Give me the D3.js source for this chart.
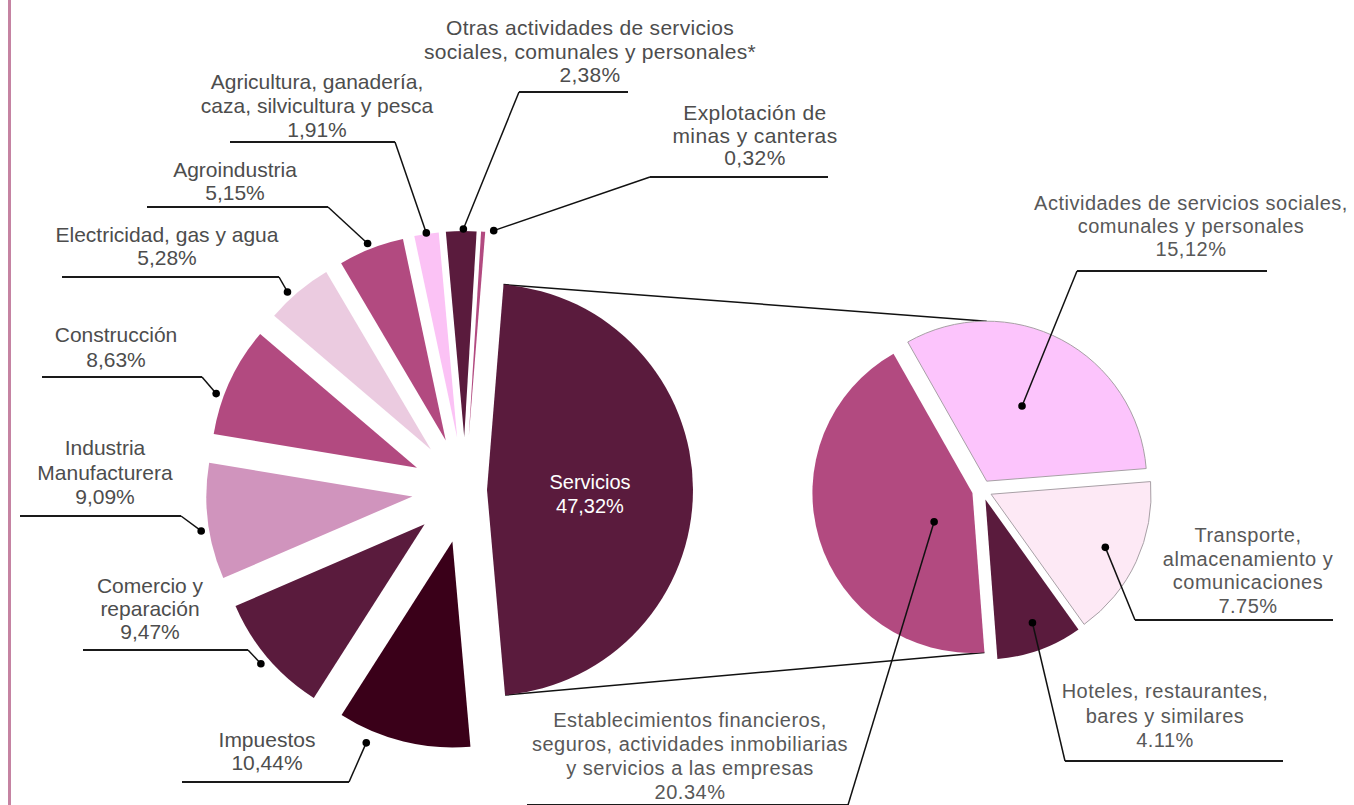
<!DOCTYPE html>
<html><head><meta charset="utf-8">
<script src="https://cdn.jsdelivr.net/npm/d3@7"></script>
<style>body{margin:0;background:#fff}svg{display:block}</style>
</head><body>
<svg id="chart" width="1354" height="805"></svg>
<script>
// ---------- data ----------
const mainCategories = [
  "Servicios",
  "Impuestos",
  "Comercio y\nreparación",
  "Industria\nManufacturera",
  "Construcción",
  "Electricidad, gas y agua",
  "Agroindustria",
  "Agricultura, ganadería,\ncaza, silvicultura y pesca",
  "Otras actividades de servicios\nsociales, comunales y personales*",
  "Explotación de\nminas y canteras"
];
const mainValues = [47.32, 10.44, 9.47, 9.09, 8.63, 5.28, 5.15, 1.91, 2.38, 0.32];
const mainValueLabels = ["47,32%", "10,44%", "9,47%", "9,09%", "8,63%", "5,28%", "5,15%", "1,91%", "2,38%", "0,32%"];

const subCategories = [
  "Establecimientos financieros,\nseguros, actividades inmobiliarias\ny servicios a las empresas",
  "Actividades de servicios sociales,\ncomunales y personales",
  "Transporte,\nalmacenamiento y\ncomunicaciones",
  "Hoteles, restaurantes,\nbares y similares"
];
const subValues = [20.34, 15.12, 7.75, 4.11];
const subValueLabels = ["20.34%", "15,12%", "7.75%", "4.11%"];

// ---------- styles / layout ----------
const mainColors = ["#5a1b3d", "#3a0019", "#5a1b3d", "#d094bd", "#b24a80", "#ebcbe0", "#b24a80", "#fbc2f5", "#5a1b3d", "#b24a80"];
const subColors = ["#b24a80", "#fcc4fc", "#fde9f5", "#5a1b3d"];
const subStroke = [null, "#a8a0a6", "#a8a0a6", null];

const deg = Math.PI / 180;
const mainCenter = {x: 465, y: 490}, mainR = 206;
const mainExplode = [22, 53, 53, 53, 53, 53, 53, 53, 53, 53];
const subCenter = {x: 982, y: 490}, subR = 160;
const subExplode = [10, 10, 10, 10];

// label layout: cx, first baseline, line height, underline y, x1, x2, connecting end, dot fraction, dot radius, font size, letter spacing
const mainLabelLayout = [
  null,
  {cx: 267, y0: 747, lh: 23, ly: 782, x1: 182, x2: 349, end: "r", t: 0.75, r: 219, fs: 21, ls: 0},
  {cx: 150, y0: 593, lh: 23, ly: 650, x1: 83, x2: 248, end: "r", t: 0.5, r: 215, fs: 21, ls: 0},
  {cx: 105, y0: 455, lh: 24.5, ly: 516, x1: 20, x2: 181, end: "r", t: 0.43, r: 214, fs: 21, ls: 0},
  {cx: 116, y0: 342, lh: 25, ly: 377, x1: 42, x2: 202, end: "r", t: 0.35, r: 214, fs: 21, ls: 0},
  {cx: 167, y0: 242, lh: 23, ly: 277, x1: 62, x2: 279, end: "r", t: 0.38, r: 213, fs: 21, ls: 0},
  {cx: 235, y0: 177, lh: 23, ly: 207, x1: 147, x2: 328, end: "r", t: 0.48, r: 212, fs: 21, ls: 0},
  {cx: 317, y0: 89, lh: 24, ly: 142, x1: 230, x2: 395, end: "r", t: 0.5, r: 207, fs: 21, ls: 0},
  {cx: 590, y0: 35, lh: 23.5, ly: 92, x1: 519, x2: 628, end: "l", t: 0.57, r: 208, fs: 21, ls: 0.3},
  {cx: 755, y0: 120, lh: 22.5, ly: 177, x1: 650, x2: 828, end: "l", t: 3.0, r: 208, fs: 21, ls: 0.4}
];
const subLabelLayout = [
  {cx: 690, y0: 727, lh: 24, ly: 805, x1: 527, x2: 848, end: "r", t: 0.37, r: 48, fs: 20, ls: 0.5},
  {cx: 1191, y0: 210, lh: 23, ly: 271, x1: 1077, x2: 1267, end: "l", t: 0.476, r: 83, fs: 20, ls: 0.5},
  {cx: 1248, y0: 542, lh: 23.7, ly: 620, x1: 1135, x2: 1333, end: "l", t: 0.5, r: 126, fs: 20, ls: 0.5},
  {cx: 1165, y0: 698, lh: 24.5, ly: 761, x1: 1065, x2: 1283, end: "l", t: 0.47, r: 132, fs: 20, ls: 0.5}
];

// ---------- drawing ----------
const svg = d3.select("#chart");
const font = "'Liberation Sans', Arial, Helvetica, sans-serif";

// left border
svg.append("line").attr("x1", 9.5).attr("x2", 9.5).attr("y1", 0).attr("y2", 805)
  .attr("stroke", "#c583a2").attr("stroke-width", 3);

const mainPie = d3.pie().sort(null).value(d => d)
  .startAngle(4.6 * deg).endAngle(364.6 * deg);
const subPie = d3.pie().sort(null).value(d => d)
  .startAngle(175.7 * deg).endAngle(535.7 * deg);

const mainArcs = mainPie(mainValues);
const subArcs = subPie(subValues);

const mainArc = d3.arc().innerRadius(0).outerRadius(mainR);
const subArc = d3.arc().innerRadius(0).outerRadius(subR);

function origin(a, center, off) {
  const mid = (a.startAngle + a.endAngle) / 2;
  return {x: center.x + off * Math.sin(mid), y: center.y - off * Math.cos(mid)};
}
function polar(o, ang, r) { return {x: o.x + r * Math.sin(ang), y: o.y - r * Math.cos(ang)}; }

const mainOrigins = mainArcs.map((a, i) => origin(a, mainCenter, mainExplode[i]));
const subOrigins = subArcs.map((a, i) => origin(a, subCenter, subExplode[i]));

// connector lines from Servicios to sub-pie
const servA = mainArcs[0];
const servTop = polar(mainOrigins[0], servA.startAngle, mainR);
const servBot = polar(mainOrigins[0], servA.endAngle, mainR);
const subTop = polar(subOrigins[1], 2 * Math.PI, subR);
const subBot = polar(subOrigins[0], subArcs[0].startAngle, subR);
svg.append("line").attr("x1", servTop.x).attr("y1", servTop.y).attr("x2", subTop.x).attr("y2", subTop.y)
  .attr("stroke", "#111").attr("stroke-width", 1.5);
svg.append("line").attr("x1", servBot.x).attr("y1", servBot.y).attr("x2", subBot.x).attr("y2", subBot.y)
  .attr("stroke", "#111").attr("stroke-width", 1.5);

// main pie slices
svg.append("g").selectAll("path").data(mainArcs).join("path")
  .attr("d", mainArc)
  .attr("transform", (d, i) => `translate(${mainOrigins[i].x},${mainOrigins[i].y})`)
  .attr("fill", (d, i) => mainColors[i]);

// sub pie slices
svg.append("g").selectAll("path").data(subArcs).join("path")
  .attr("d", subArc)
  .attr("transform", (d, i) => `translate(${subOrigins[i].x},${subOrigins[i].y})`)
  .attr("fill", (d, i) => subColors[i])
  .attr("stroke", (d, i) => subStroke[i] || "none")
  .attr("stroke-width", 1);

// Servicios inner label
const so = mainOrigins[0];
const sLbl = svg.append("text").attr("font-family", font).attr("font-size", 20)
  .attr("fill", "#fff").attr("text-anchor", "middle");
sLbl.append("tspan").attr("x", so.x + 103).attr("y", so.y - 1).text(mainCategories[0]);
sLbl.append("tspan").attr("x", so.x + 103).attr("y", so.y + 23).text(mainValueLabels[0]);

function drawLabel(lay, name, valueLabel, arc, o, color) {
  const lines = name.split("\n").concat([valueLabel]);
  const t = svg.append("text").attr("font-family", font).attr("font-size", lay.fs)
    .attr("fill", color).attr("text-anchor", "middle").attr("letter-spacing", lay.ls);
  lines.forEach((s, k) => t.append("tspan").attr("x", lay.cx).attr("y", lay.y0 + k * lay.lh).text(s));
  svg.append("line").attr("x1", lay.x1).attr("x2", lay.x2).attr("y1", lay.ly).attr("y2", lay.ly)
    .attr("stroke", "#1a1a1a").attr("stroke-width", 2);
  const ang = arc.startAngle + lay.t * (arc.endAngle - arc.startAngle);
  const dot = polar(o, ang, lay.r);
  const ex = lay.end === "r" ? lay.x2 : lay.x1;
  svg.append("line").attr("x1", ex).attr("y1", lay.ly).attr("x2", dot.x).attr("y2", dot.y)
    .attr("stroke", "#111").attr("stroke-width", 1.5);
  svg.append("circle").attr("cx", dot.x).attr("cy", dot.y).attr("r", 3.8).attr("fill", "#000");
}

mainArcs.forEach((a, i) => {
  if (mainLabelLayout[i]) drawLabel(mainLabelLayout[i], mainCategories[i], mainValueLabels[i], a, mainOrigins[i], "#4d4d4d");
});
subArcs.forEach((a, i) => {
  drawLabel(subLabelLayout[i], subCategories[i], subValueLabels[i], a, subOrigins[i], "#585858");
});
</script>
</body></html>
